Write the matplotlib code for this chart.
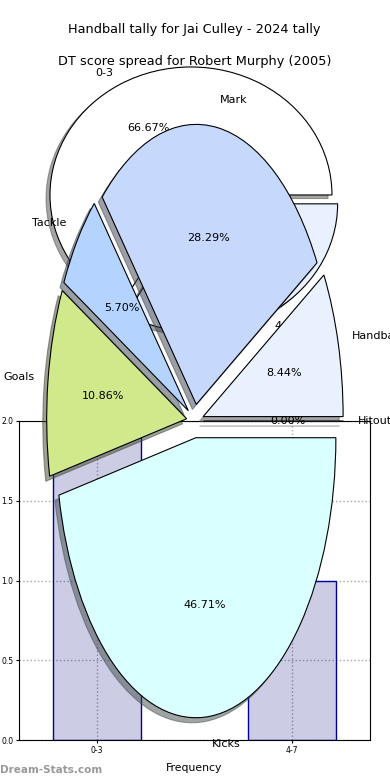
import numpy as np
import matplotlib
matplotlib.use('Agg')
import matplotlib.pyplot as plt

####################################
#               Data               #
####################################

# DT score spread (histogram + first pie)
dt_bins = ['0-3', '4-7']
dt_counts = [2, 1]
dt_colors = ['white', '#e9f0fe']

# Handball tally pie (percent)
tally_labels = ['Hitout', 'Handball', 'Mark', 'Tackle', 'Goals', 'Kicks']
tally_values = [0.0, 8.44, 28.29, 5.70, 10.86, 46.71]
tally_colors = ['#f2f6ff', '#e9f0fe', '#c6d9fd', '#b4d4ff', '#cfe98b', '#d9fffe']

title_top = 'Handball tally for Jai Culley - 2024 tally'
title_sub = 'DT score spread for Robert Murphy (2005)'

####################################
#               Main               #
####################################

fig = plt.figure(figsize=(3.9, 7.8), dpi=100, facecolor='white')

# first pie (drawn underneath everything)
ax_p1 = fig.add_axes([0, 0, 1, 1], zorder=0)
ax_p1.patch.set_visible(False)
ax_p1.pie(dt_counts, labels=dt_bins, colors=dt_colors, explode=[0.04] * len(dt_counts),
          autopct='%.2f%%', shadow={'ox': -0.02, 'oy': -0.02},
          wedgeprops={'linewidth': 0.8, 'edgecolor': 'k'},
          textprops={'fontsize': 8})
ax_p1.set_aspect('auto')
ax_p1.set_xlim(-193.8 / 141, 196.2 / 141)
ax_p1.set_ylim((199.4 - 780) / 128, 199.4 / 128)
ax_p1.set_axis_off()

# histogram
ax_h = fig.add_axes([19 / 390, 40 / 780, 351 / 390, 319 / 780], zorder=1)
ax_h.patch.set_visible(False)
x = np.arange(len(dt_bins))
ax_h.bar(x, dt_counts, width=0.45, facecolor=(0, 0, 0.5, 0.2), edgecolor='#0000a0', linewidth=1)
ax_h.set_xlim(-0.4, 1.4)
ax_h.set_ylim(0, 2)
ax_h.set_xticks(x)
ax_h.set_xticklabels(dt_bins)
ax_h.set_yticks([0, 0.5, 1.0, 1.5, 2.0])
ax_h.set_yticklabels(['0.0', '0.5', '1.0', '1.5', '2.0'])
ax_h.tick_params(labelsize=5.5, length=2, pad=2)
ax_h.grid(True, linestyle=':', color='0.65', linewidth=1)
ax_h.set_axisbelow(True)
ax_h.set_xlabel('Frequency', fontsize=7.8, labelpad=6)

# second pie (on top)
ax_p2 = fig.add_axes([0, 0, 1, 1], zorder=2)
ax_p2.patch.set_visible(False)
ax_p2.pie(tally_values, labels=tally_labels, colors=tally_colors,
          explode=[0.06] * len(tally_values), autopct='%.2f%%',
          shadow={'ox': -0.02, 'oy': -0.013},
          wedgeprops={'linewidth': 0.8, 'edgecolor': 'k'},
          textprops={'fontsize': 8})
ax_p2.set_aspect('auto')
ax_p2.set_xlim(-195 / 140, 195 / 140)
ax_p2.set_ylim(-(780 - 421) / 280, 421 / 280)
ax_p2.set_axis_off()

fig.text(194.5 / 390, 1 - 30 / 780, title_top, ha='center', va='center', fontsize=9.3)
fig.text(194.5 / 390, 1 - 61 / 780, title_sub, ha='center', va='center', fontsize=9.3)
fig.text(0, 1 - 770 / 780, 'Dream-Stats.com', ha='left', va='center', fontsize=7.5,
         color='#999999', fontweight='bold')

plt.savefig('out.png', dpi=100, facecolor='white')
